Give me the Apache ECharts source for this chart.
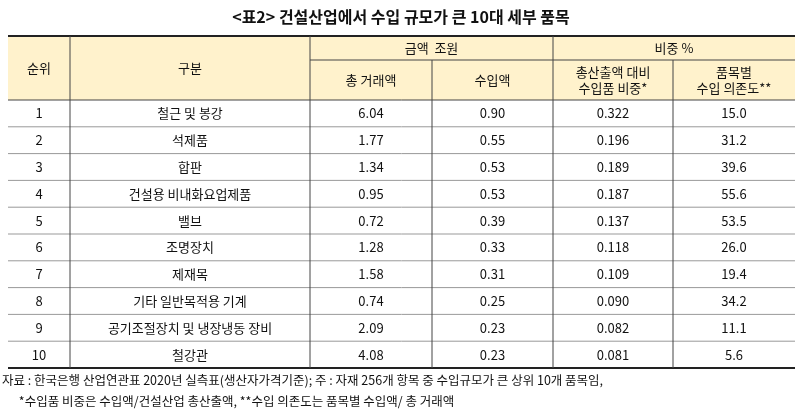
<!DOCTYPE html>
<html><head><meta charset="utf-8">
<script src="https://cdn.jsdelivr.net/npm/echarts@6/dist/echarts.min.js"></script>
<style>html,body{margin:0;background:#fff}#c{width:802px;height:410px}</style>
</head><body><div id="c"></div>
<script>
const title = '<표2> 건설산업에서 수입 규모가 큰 10대 세부 품목';
const ranks = ['1','2','3','4','5','6','7','8','9','10'];
const items = ['철근 및 봉강','석제품','합판','건설용 비내화요업제품','밸브','조명장치','제재목','기타 일반목적용 기계','공기조절장치 및 냉장냉동 장비','철강관'];
const totalTrade = ['6.04','1.77','1.34','0.95','0.72','1.28','1.58','0.74','2.09','4.08'];
const imports = ['0.90','0.55','0.53','0.53','0.39','0.33','0.31','0.25','0.23','0.23'];
const importShare = ['0.322','0.196','0.189','0.187','0.137','0.118','0.109','0.090','0.082','0.081'];
const dependence = ['15.0','31.2','39.6','55.6','53.5','26.0','19.4','34.2','11.1','5.6'];
const notes = [
  '자료 : 한국은행 산업연관표 2020년 실측표(생산자가격기준); 주 : 자재 256개 항목 중 수입규모가 큰 상위 10개 품목임,',
  '      *수입품 비중은 수입액/건설산업 총산출액, **수입 의존도는 품목별 수입액/ 총 거래액'
];

const colX = [8, 70, 310, 432, 553, 673, 795];
const yTop = 36, h1 = 60, h2 = 100, rowH = 26.8;
const font = '"Noto Sans CJK KR", sans-serif';
const g = [];
const txt = (x, y, s, opt = {}) => g.push({ type: 'text', x, y, style: Object.assign({ text: s, font: '13px ' + font, fill: '#111', align: 'center', verticalAlign: 'middle', lineHeight: 16 }, opt) });
const line = (x1, y1, x2, y2, w = 1, c = '#444') => g.push({ type: 'line', shape: { x1, y1, x2, y2 }, style: { stroke: c, lineWidth: w } });

g.push({ type: 'rect', shape: { x: colX[0], y: yTop, width: colX[6] - colX[0], height: h2 - yTop }, style: { fill: '#FFF2CC' } });
txt(401, 17, title, { font: 'bold 16px ' + font });
txt((colX[0] + colX[1]) / 2, (yTop + h2) / 2, '순위');
txt((colX[1] + colX[2]) / 2, (yTop + h2) / 2, '구분');
txt((colX[2] + colX[4]) / 2, (yTop + h1) / 2, '금액  조원');
txt((colX[4] + colX[6]) / 2, (yTop + h1) / 2, '비중 %');
txt((colX[2] + colX[3]) / 2, (h1 + h2) / 2, '총 거래액');
txt((colX[3] + colX[4]) / 2, (h1 + h2) / 2, '수입액');
txt((colX[4] + colX[5]) / 2, (h1 + h2) / 2, '총산출액 대비\n수입품 비중*');
txt((colX[5] + colX[6]) / 2, (h1 + h2) / 2, '품목별\n수입 의존도**');

const cols = [ranks, items, totalTrade, imports, importShare, dependence];
ranks.forEach((_, i) => {
  const cy = h2 + rowH * (i + 0.5);
  cols.forEach((arr, j) => txt((colX[j] + colX[j + 1]) / 2, cy, arr[i]));
  if (i > 0) line(colX[0], h2 + rowH * i, colX[6], h2 + rowH * i, 1, '#999');
});
const bottom = h2 + rowH * ranks.length;
line(colX[0], yTop, colX[6], yTop, 2, '#222');
line(colX[2], h1, colX[6], h1, 1, '#444');
line(colX[0], h2, colX[6], h2, 1, '#444');
line(colX[0], bottom, colX[6], bottom, 2, '#222');
[1, 2, 4].forEach(k => line(colX[k], yTop, colX[k], bottom));
[3, 5].forEach(k => line(colX[k], h1, colX[k], bottom));
notes.forEach((n, i) => txt(2, 380 + i * 21, n, { align: 'left', font: '12.5px ' + font }));

const chart = echarts.init(document.getElementById('c'));
chart.setOption({ animation: false, graphic: g });
</script></body></html>
